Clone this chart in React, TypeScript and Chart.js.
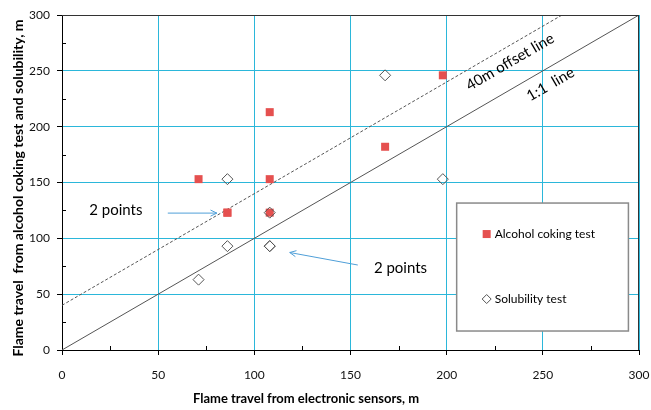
import React, { useEffect, useRef } from "react";
import { Chart, registerables } from "chart.js";
Chart.register(...registerables);

// Alcohol coking test (red squares)
const alcoholX = [71, 86, 86, 108, 108, 108, 168, 198];
const alcoholY = [153, 123, 123, 213, 153, 123, 182, 246];
// Solubility test (diamonds)
const solubilityX = [86, 71, 86, 108, 108, 108, 168, 198];
const solubilityY = [153, 63, 93, 93, 93, 123, 246, 153];
// Reference lines
const oneToOneX = [0, 300];
const oneToOneY = [0, 300];
const offsetX = [0, 260];
const offsetY = [40, 300];

const axisMin = 0;
const axisMax = 300;
const majorStep = 50;
const minorStep = 25;

const xTitle = "Flame travel from electronic sensors, m";
const yTitle = "Flame travel  from alcohol coking test and solubility, m";
const legendLabels = ["Alcohol coking test", "Solubility test"];
const annotationText = "2 points";
const offsetLabel = "40m offset line";
const oneToOneLabel = "1:1  line";

const RED = "#E5504F";
const GRID = "#2BB7DA";
const ARROW = "#4F9FD8";
const FONT = "Lato, 'DejaVu Sans', sans-serif";

const zip = (xs: number[], ys: number[]) => xs.map((x, i) => ({ x, y: ys[i] }));

function arrow(ctx: CanvasRenderingContext2D, x1: number, y1: number, x2: number, y2: number) {
  ctx.save();
  ctx.strokeStyle = ARROW;
  ctx.lineWidth = 1;
  ctx.beginPath();
  ctx.moveTo(x1, y1);
  ctx.lineTo(x2, y2);
  const a = Math.atan2(y2 - y1, x2 - x1);
  const h = 7;
  ctx.moveTo(x2 - h * Math.cos(a - 0.45), y2 - h * Math.sin(a - 0.45));
  ctx.lineTo(x2, y2);
  ctx.lineTo(x2 - h * Math.cos(a + 0.45), y2 - h * Math.sin(a + 0.45));
  ctx.stroke();
  ctx.restore();
}

const decorPlugin = {
  id: "decor",
  afterDraw(chart: any) {
    const ctx: CanvasRenderingContext2D = chart.ctx;
    const xs = chart.scales.x;
    const ys = chart.scales.y;
    const { left, right, top, bottom } = chart.chartArea;
    const px = (v: number) => xs.getPixelForValue(v);
    const py = (v: number) => ys.getPixelForValue(v);
    ctx.save();
    // top & right borders
    ctx.strokeStyle = "#333";
    ctx.lineWidth = 1;
    ctx.beginPath();
    ctx.moveTo(left, top + 0.5);
    ctx.lineTo(right, top + 0.5);
    ctx.moveTo(right - 0.5, top);
    ctx.lineTo(right - 0.5, bottom);
    ctx.stroke();
    // minor ticks inward
    ctx.strokeStyle = "#000";
    ctx.beginPath();
    for (let v = axisMin + minorStep; v < axisMax; v += majorStep) {
      const x = Math.round(px(v)) + 0.5;
      ctx.moveTo(x, bottom);
      ctx.lineTo(x, bottom - 4);
      const y = Math.round(py(v)) + 0.5;
      ctx.moveTo(left, y);
      ctx.lineTo(left + 4, y);
    }
    ctx.stroke();

    // axis titles
    ctx.fillStyle = "#000";
    ctx.textAlign = "center";
    ctx.textBaseline = "middle";
    ctx.font = `bold 13px ${FONT}`;
    ctx.fillText(xTitle, 306, 399);
    ctx.save();
    ctx.translate(18, 188);
    ctx.rotate(-Math.PI / 2);
    ctx.font = `bold 14px ${FONT}`;
    ctx.fillText(yTitle, 0, 0);
    ctx.restore();

    // rotated line labels
    const ang = Math.atan2(py(300) - py(0), px(300) - px(0));
    ctx.font = `15px ${FONT}`;
    ctx.save();
    ctx.translate(px(233), py(258));
    ctx.rotate(ang);
    ctx.fillText(offsetLabel, 0, 0);
    ctx.restore();
    ctx.save();
    ctx.translate(px(254), py(238));
    ctx.rotate(ang);
    ctx.fillText(oneToOneLabel, 0, 0);
    ctx.restore();

    // "2 points" annotations
    ctx.font = `15px ${FONT}`;
    ctx.fillText(annotationText, px(28), py(125));
    arrow(ctx, px(55), py(122.6), px(80.5), py(122.6));
    ctx.fillText(annotationText, px(176), py(73.4));
    arrow(ctx, px(153.8), py(76.1), px(118.4), py(87.3));

    // legend box
    const bx1 = px(205.2), by1 = py(131.6), bx2 = px(294.5), by2 = py(17);
    ctx.fillStyle = "#fff";
    ctx.fillRect(bx1, by1, bx2 - bx1, by2 - by1);
    ctx.strokeStyle = "#8a8a8a";
    ctx.lineWidth = 1.5;
    ctx.strokeRect(bx1, by1, bx2 - bx1, by2 - by1);
    const ix = bx1 + 30;
    const iy1 = by1 + 31;
    const iy2 = by1 + 96;
    ctx.fillStyle = RED;
    ctx.fillRect(ix - 4, iy1 - 4, 8, 8);
    ctx.strokeStyle = "#555";
    ctx.lineWidth = 1;
    ctx.beginPath();
    ctx.moveTo(ix, iy2 - 4.5);
    ctx.lineTo(ix + 4.5, iy2);
    ctx.lineTo(ix, iy2 + 4.5);
    ctx.lineTo(ix - 4.5, iy2);
    ctx.closePath();
    ctx.stroke();
    ctx.fillStyle = "#000";
    ctx.font = `12px ${FONT}`;
    ctx.textAlign = "left";
    ctx.fillText(legendLabels[0], ix + 8, iy1);
    ctx.fillText(legendLabels[1], ix + 8, iy2);
    ctx.restore();
  },
};

export default function App() {
  const ref = useRef<HTMLCanvasElement>(null);
  useEffect(() => {
    const canvas = ref.current!;
    const chart = new Chart(canvas, {
      type: "scatter",
      data: {
        datasets: [
          {
            label: legendLabels[1],
            data: zip(solubilityX, solubilityY),
            pointStyle: "rectRot",
            pointRadius: 5.5,
            pointBackgroundColor: "rgba(255,255,255,0)",
            pointBorderColor: "#555",
            pointBorderWidth: 1,
            order: 0,
          },
          {
            label: legendLabels[0],
            data: zip(alcoholX, alcoholY),
            pointStyle: "rect",
            pointRadius: 5.66,
            pointBackgroundColor: RED,
            pointBorderColor: RED,
            pointBorderWidth: 0,
            order: 1,
          },
          {
            type: "line",
            label: "1:1 line",
            data: zip(oneToOneX, oneToOneY),
            borderColor: "#555",
            borderWidth: 1,
            pointRadius: 0,
            showLine: true,
            order: 2,
          },
          {
            type: "line",
            label: "40m offset line",
            data: zip(offsetX, offsetY),
            borderColor: "#555",
            borderWidth: 1,
            borderDash: [3, 2],
            pointRadius: 0,
            showLine: true,
            order: 3,
          },
        ] as any,
      },
      options: {
        animation: false,
        responsive: false,
        maintainAspectRatio: false,
        layout: { padding: { top: 15, right: 0, left: 0, bottom: 0 } },
        plugins: { legend: { display: false }, tooltip: { enabled: false } },
        scales: {
          x: {
            type: "linear",
            min: axisMin,
            max: axisMax,
            afterFit: (s: any) => { s.height = 60; s.paddingRight = 12; s.paddingLeft = 0; },
            ticks: { stepSize: majorStep, color: "#111", padding: 13, font: { family: FONT, size: 12 } },
            grid: { color: GRID, lineWidth: 1, tickColor: "#000", tickLength: 5 },
            border: { display: true, color: "#000", width: 1 },
          },
          y: {
            type: "linear",
            min: axisMin,
            max: axisMax,
            afterFit: (s: any) => { s.width = 62; s.paddingTop = 0; s.paddingBottom = 0; },
            ticks: { stepSize: majorStep, color: "#111", padding: 7, font: { family: FONT, size: 12 } },
            grid: { color: GRID, lineWidth: 1, tickColor: "#000", tickLength: 5 },
            border: { display: true, color: "#000", width: 1 },
          },
        },
      },
      plugins: [decorPlugin],
    });
    return () => chart.destroy();
  }, []);
  return (
    <div style={{ position: "absolute", left: 0, top: 0, width: 651, height: 410, background: "#fff" }}>
      <canvas ref={ref} width={651} height={410} style={{ width: 651, height: 410, display: "block" }} />
    </div>
  );
}
